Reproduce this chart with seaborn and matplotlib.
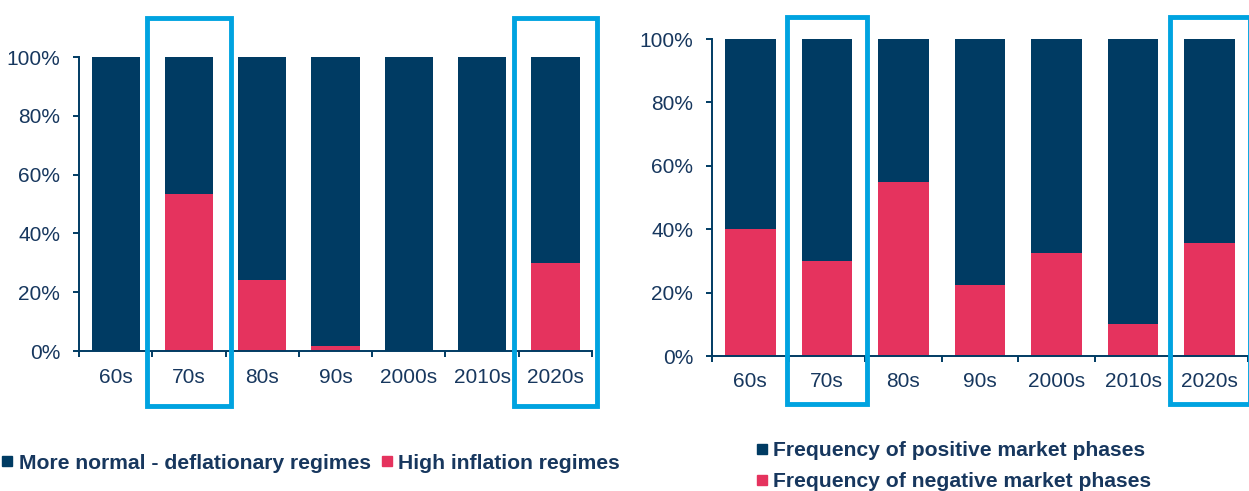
import numpy as np
import matplotlib
matplotlib.use('Agg')
import matplotlib.pyplot as plt
from matplotlib.lines import Line2D
from matplotlib.patches import Rectangle
import seaborn as sns

# Data
decades = ['60s', '70s', '80s', '90s', '2000s', '2010s', '2020s']
high_inflation = [0, 53.3, 24.1, 1.7, 0, 0, 30.0]
normal_regime = [100 - v for v in high_inflation]
negative_phases = [40.0, 30.0, 55.0, 22.5, 32.5, 10.0, 35.5]
positive_phases = [100 - v for v in negative_phases]
ytick_vals = [0, 20, 40, 60, 80, 100]
ytick_labels = ['0%', '20%', '40%', '60%', '80%', '100%']
highlight = ['70s', '2020s']

navy = '#003B63'
pink = '#E5335E'
frame_blue = '#00A3E0'
text_col = '#17375E'

sns.set_style('white')
plt.rcParams['font.family'] = ['Liberation Sans', 'DejaVu Sans']

fig = plt.figure(figsize=(12.49, 4.91), dpi=100)
ax1 = fig.add_axes([0.0633, 0.2851, 0.4107, 0.5988])
ax2 = fig.add_axes([0.5701, 0.2749, 0.4291, 0.6456])


def style_axis(ax, label_pad):
    ax.set_xlim(-0.5, len(decades) - 0.5)
    ax.set_ylim(0, 100)
    for s in ['top', 'right']:
        ax.spines[s].set_visible(False)
    for s in ['left', 'bottom']:
        ax.spines[s].set_color(navy)
        ax.spines[s].set_linewidth(1.4)
    ax.set_yticks(ytick_vals)
    ax.set_yticklabels(ytick_labels)
    # ticks at category boundaries, labels at centres
    ax.set_xticks(np.arange(-0.5, len(decades), 1))
    ax.set_xticklabels([''] * (len(decades) + 1))
    ax.set_xticks(range(len(decades)), minor=True)
    ax.set_xticklabels(decades, minor=True)
    ax.tick_params(axis='x', which='major', direction='out', length=4.5,
                   width=1.4, color=navy, bottom=True)
    ax.tick_params(axis='x', which='minor', length=0, pad=label_pad,
                   labelsize=15, labelcolor=text_col)
    ax.tick_params(axis='y', direction='out', length=4.5, width=1.4,
                   color=navy, left=True, pad=9, labelsize=15,
                   labelcolor=text_col)
    ax.set_xlabel('')
    ax.set_ylabel('')


def add_frames(ax, half, y0, y1):
    for d in highlight:
        i = decades.index(d)
        ax.add_patch(Rectangle((i - half, y0), 2 * half, y1 - y0,
                               transform=ax.get_xaxis_transform(),
                               fill=False, edgecolor=frame_blue,
                               linewidth=3.5, clip_on=False, zorder=5))


# Left panel
total1 = [a + b for a, b in zip(normal_regime, high_inflation)]
sns.barplot(x=decades, y=total1, color=navy, saturation=1, width=0.66,
            linewidth=0, ax=ax1)
sns.barplot(x=decades, y=high_inflation, color=pink, saturation=1,
            width=0.66, linewidth=0, ax=ax1)
style_axis(ax1, 12)
add_frames(ax1, 0.57, -0.187, 1.134)

# Right panel
total2 = [a + b for a, b in zip(positive_phases, negative_phases)]
sns.barplot(x=decades, y=total2, color=navy, saturation=1, width=0.66,
            linewidth=0, ax=ax2)
sns.barplot(x=decades, y=negative_phases, color=pink, saturation=1,
            width=0.66, linewidth=0, ax=ax2)
style_axis(ax2, 11.5)
add_frames(ax2, 0.52, -0.151, 1.069)

# Legends
h_navy = Line2D([], [], marker='s', linestyle='', color=navy, markersize=7.5)
h_pink = Line2D([], [], marker='s', linestyle='', color=pink, markersize=7.5)
leg_font = {'weight': 'bold', 'size': 15.2}

leg1 = fig.legend([h_navy, h_pink],
                  ['More normal - deflationary regimes', 'High inflation regimes'],
                  loc='center left', bbox_to_anchor=(0.0, 0.057), ncol=2,
                  frameon=False, prop=leg_font, handlelength=0.7,
                  handletextpad=0.2, columnspacing=0.4, borderpad=0,
                  borderaxespad=0)
for t in leg1.get_texts():
    t.set_color(text_col)

leg2 = fig.legend([h_navy, h_pink],
                  ['Frequency of positive market phases',
                   'Frequency of negative market phases'],
                  loc='center left', bbox_to_anchor=(0.604, 0.051), ncol=1,
                  frameon=False, prop=leg_font, handlelength=0.7,
                  handletextpad=0.2, labelspacing=0.57, borderpad=0,
                  borderaxespad=0)
for t in leg2.get_texts():
    t.set_color(text_col)

fig.savefig('out.png', dpi=100)
